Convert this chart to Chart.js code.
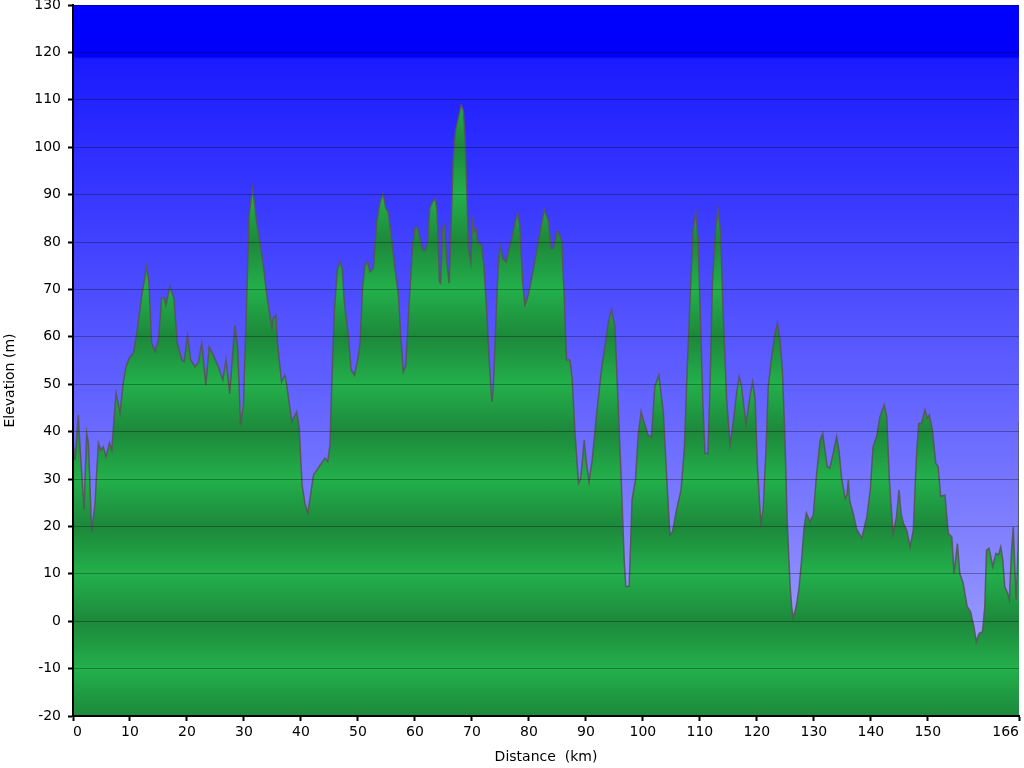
<!DOCTYPE html>
<html>
<head>
<meta charset="utf-8">
<title>Profil altimétrique</title>
<script src="https://cdn.jsdelivr.net/npm/chart.js@4.4.1/dist/chart.umd.min.js"></script>
<style>
  html, body { margin: 0; padding: 0; background: #fff; }
  #profil { display: block; }
</style>
</head>
<body>
<canvas id="profil" width="1024" height="768"></canvas>
<script>
const distanceKm = [
  0, 0.35, 0.93, 1.23, 1.93, 2.4, 2.7, 3.28, 3.86, 4.45, 4.85, 5.3, 5.8, 6.4, 6.8,
  7.55, 8.25, 8.8, 9.3, 9.9, 10.6, 11.2, 12.05, 12.9, 13.3, 13.8, 14.4, 15.0, 15.55, 16.0,
  16.3, 17.0, 17.7, 18.3, 19.1, 19.5, 20.1, 20.65, 21.4, 22.0, 22.6, 23.3, 23.9, 24.6, 25.5,
  26.3, 26.85, 27.5, 28.4, 28.9, 29.4, 29.9, 30.5, 30.9, 31.5, 31.9, 32.2, 32.8, 33.4, 34.0,
  34.9, 35.15, 35.6, 35.9, 36.6, 37.2, 37.5, 38.4, 39.25, 39.7, 40.2, 40.7, 41.2, 42.2, 43.0,
  44.2, 44.7, 45.1, 45.4, 45.85, 46.4, 46.85, 47.25, 47.6, 48.3, 48.8, 49.4, 50.0, 50.4, 50.8,
  51.2, 51.7, 52.1, 52.7, 53.3, 53.9, 54.4, 54.9, 55.3, 55.9, 56.5, 57.1, 57.5, 57.95, 58.4,
  59.0, 59.6, 60.0, 60.4, 60.9, 61.35, 61.8, 62.2, 62.6, 63.1, 63.6, 63.9, 64.3, 64.5, 64.9,
  65.2, 65.6, 66.0, 66.3, 66.7, 67.1, 67.6, 68.1, 68.5, 68.8, 69.1, 69.4, 69.8, 70.1, 70.4,
  70.7, 71.1, 71.7, 72.1, 72.6, 73.05, 73.5, 73.75, 74.2, 74.6, 74.9, 75.4, 76.0, 76.4, 77.0,
  77.6, 78.0, 78.4, 78.9, 79.3, 79.9, 80.8, 81.8, 82.7, 83.4, 83.9, 84.3, 85.0, 85.75, 86.2,
  86.6, 87.2, 87.6, 88.1, 88.7, 89.1, 89.7, 90.1, 90.55, 91.1, 91.9, 92.8, 93.35, 93.9, 94.5,
  95.1, 95.6, 96.2, 96.75, 97.0, 97.6, 98.1, 98.7, 99.2, 99.7, 100.1, 100.5, 100.9, 101.5, 102.1,
  102.8, 103.6, 104.2, 104.75, 105.2, 105.9, 106.7, 107.3, 107.7, 108.3, 108.8, 109.3, 109.7, 110.0, 110.5,
  110.9, 111.4, 111.8, 112.2, 112.8, 113.2, 113.65, 114.0, 114.7, 115.3, 115.9, 116.45, 116.9, 117.3, 118.1,
  118.7, 119.25, 119.7, 120.1, 120.7, 121.1, 121.6, 122.0, 122.6, 123.2, 123.6, 124.05, 124.5, 124.9, 125.3,
  125.8, 126.1, 126.4, 126.9, 127.4, 127.85, 128.3, 128.7, 129.3, 129.9, 130.5, 131.1, 131.55, 131.95, 132.35,
  132.8, 133.4, 134.0, 134.4, 134.9, 135.5, 135.8, 136.05, 136.3, 136.9, 137.5, 138.4, 139.3, 139.9, 140.4,
  141.0, 141.6, 142.35, 142.8, 143.25, 143.9, 144.5, 144.95, 145.3, 145.7, 146.3, 146.9, 147.45, 148.0, 148.4,
  148.9, 149.5, 149.9, 150.25, 150.8, 151.4, 151.8, 152.25, 153.0, 153.6, 154.2, 154.6, 155.2, 155.6, 156.2,
  156.9, 157.5, 158.1, 158.5, 159.0, 159.6, 160.0, 160.3, 160.75, 161.4, 161.95, 162.4, 162.8, 163.15, 163.5,
  164.0, 164.3, 164.7, 165.0, 165.3, 165.5, 165.7, 165.95, 166
];
const elevationM = [
  38, 34, 43.5, 36.8, 23.5, 39.7, 37.6, 18.9, 24.9, 37.6, 36.1, 36.8, 34.7, 37.6, 36.1,
  48.1, 43.9, 50.2, 53.7, 55.5, 56.6, 60.8, 68.5, 74.8, 72, 58.7, 56.9, 59.3, 68.2, 68.2,
  66.7, 70.6, 68.2, 58.7, 55.1, 54.8, 60.4, 55.1, 53.7, 54.5, 58.7, 49.8, 57.9, 56.2, 53.7,
  50.9, 55.1, 48, 62.5, 57.6, 41.4, 45.6, 68.8, 85.7, 91.3, 87.8, 84.3, 80, 75.1, 68.8,
  61.8, 63.9, 64.6, 58.3, 50.5, 51.9, 49.8, 42.1, 44.2, 40.7, 28.7, 24.9, 22.8, 30.8, 32.3,
  34.4, 33.7, 37.2, 49.8, 65.3, 74.4, 75.8, 74.4, 67.4, 60.4, 53, 51.9, 55.5, 59, 70.2,
  75.1, 75.8, 73.7, 74.4, 84.3, 88.5, 90.2, 87.1, 86.4, 80.8, 74.4, 68.8, 60.4, 52.6, 54,
  67.4, 79.4, 82.9, 83.2, 80.8, 78.3, 78.3, 79.7, 87.1, 88.5, 89.2, 86.4, 71.6, 71.3, 82.9,
  83.6, 75.8, 71.3, 81.5, 96.9, 103.3, 106.1, 108.9, 107.8, 101.9, 91.3, 78.7, 75.8, 85.3, 82.2,
  82.9, 79.7, 79.4, 75.1, 65.3, 54.8, 46.3, 49.1, 63.2, 74.4, 79.4, 76.6, 75.8, 78, 80.8,
  84.3, 86.1, 83.6, 71.6, 66.7, 68.8, 74.4, 81.1, 86.8, 84.6, 78.7, 78.7, 82.5, 80.4, 68.5,
  55.1, 55.1, 50.9, 39.6, 29.1, 30.1, 38.2, 33.3, 29.4, 34, 43.9, 53.7, 57.9, 62.8, 65.7,
  62.1, 47.4, 29.8, 12.2, 7.3, 7.3, 25.6, 29.8, 39.6, 44.2, 42.4, 41, 39.3, 38.9, 49.5,
  51.9, 43.9, 29.8, 18.2, 18.9, 23.5, 27.7, 36.8, 50.9, 68.5, 82.5, 86.1, 80.4, 67.8, 46.7,
  35.4, 35.4, 50.2, 71.3, 83.2, 86.8, 81.8, 67.8, 46.7, 37.2, 42.4, 48.1, 51.6, 49.5, 41.7,
  46.7, 50.5, 46.7, 32.6, 20.7, 23.5, 36.1, 49.5, 55.8, 60.7, 62.8, 59.3, 52.3, 39.6, 22,
  8, 3.1, 0.6, 3.1, 6.9, 12.9, 19.9, 22.8, 21, 22.4, 31.2, 38.2, 39.6, 36.1, 32.6,
  32.3, 35.4, 38.9, 36.1, 29.8, 25.9, 26.6, 29.8, 25.3, 22.8, 19.5, 17.5, 22, 27.7, 36.8,
  38.9, 43.1, 45.6, 43.1, 29.8, 18.5, 22, 27.7, 22.8, 20.7, 19.2, 15.7, 19.2, 34.7, 41.7,
  41.7, 44.6, 42.8, 43.5, 40.3, 33.3, 32.6, 26.3, 26.6, 18.5, 17.8, 10.1, 16.4, 10.1, 8,
  3.1, 2, -1.2, -4.3, -2.6, -2.2, 3.1, 15, 15.4, 11.5, 14.3, 14, 15.7, 12.9, 7.3,
  5.9, 4.5, 15, 19.9, 10.1, 4.5, 10.1, 20.7, 42
];

// Graduations de l'axe des distances (la dernière est la distance totale)
const distanceTicks = [0, 10, 20, 30, 40, 50, 60, 70, 80, 90, 100, 110, 120, 130, 140, 150, 166];

// Couleurs
const vertFonce = 'rgb(29,136,59)';
const vertClair = 'rgb(35,176,75)';

// Dégradé vert en bandes de 10 m sous la courbe
function degradeVert(context) {
  const chart = context.chart;
  const { ctx, chartArea, scales } = chart;
  if (!chartArea) return vertClair;
  const y = scales.y;
  const haut = y.getPixelForValue(130);
  const bas = y.getPixelForValue(-20);
  const g = ctx.createLinearGradient(0, haut, 0, bas);
  for (let v = -20; v <= 130; v += 10) {
    const f = (y.getPixelForValue(v) - haut) / (bas - haut);
    g.addColorStop(Math.min(1, Math.max(0, f)), Math.abs(v / 10) % 2 === 0 ? vertFonce : vertClair);
  }
  return g;
}

// Fond bleu dégradé de la zone du graphique
const fondBleu = {
  id: 'fondBleu',
  beforeDraw(chart) {
    const { ctx, chartArea: a, scales } = chart;
    if (!a) return;
    const y = scales.y;
    const coupure = (y.getPixelForValue(119) - a.top) / (a.bottom - a.top);
    const g = ctx.createLinearGradient(0, a.top, 0, a.bottom);
    g.addColorStop(0, 'rgb(0,0,255)');
    g.addColorStop(coupure, 'rgb(0,0,250)');
    g.addColorStop(coupure + 0.002, 'rgb(26,26,255)');
    g.addColorStop(1, 'rgb(168,168,255)');
    ctx.save();
    ctx.fillStyle = g;
    ctx.fillRect(a.left, a.top, a.right - a.left, a.bottom - a.top);
    ctx.restore();
  }
};

const police = { family: "'DejaVu Sans', Verdana, sans-serif", size: 14 };

const points = distanceKm.map((d, i) => ({ x: d, y: elevationM[i] }));

new Chart(document.getElementById('profil'), {
  type: 'line',
  data: {
    datasets: [{
      data: points,
      borderColor: 'rgba(85,85,85,0.9)',
      borderWidth: 1.5,
      backgroundColor: degradeVert,
      fill: 'start',
      pointRadius: 0,
      tension: 0
    }]
  },
  options: {
    responsive: false,
    animation: false,
    layout: { padding: { left: 0, top: 5, right: 5, bottom: 0 } },
    plugins: {
      legend: { display: false },
      tooltip: { enabled: false }
    },
    scales: {
      x: {
        type: 'linear',
        min: 0,
        max: 166,
        afterBuildTicks: (scale) => {
          scale.ticks = distanceTicks.map(v => ({ value: v }));
        },
        afterFit: (scale) => {
          scale.height = 52;
        },
        ticks: {
          color: '#000',
          font: police,
          padding: 3,
          align: 'inner',
          maxRotation: 0,
          autoSkip: false
        },
        grid: {
          drawOnChartArea: false,
          drawTicks: true,
          tickLength: 5,
          tickColor: '#000',
          tickWidth: 2,
          z: 1
        },
        border: { color: '#000', width: 2, z: 1 },
        title: {
          display: true,
          text: 'Distance  (km)',
          color: '#000',
          font: police,
          padding: { top: 0, bottom: 2 }
        }
      },
      y: {
        min: -20,
        max: 130,
        afterFit: (scale) => {
          scale.width = 73;
          scale.paddingTop = 0;
          scale.paddingBottom = 0;
        },
        ticks: {
          stepSize: 10,
          color: '#000',
          font: police,
          padding: 7
        },
        grid: {
          color: 'rgba(0,0,0,0.3)',
          lineWidth: 1,
          tickLength: 5,
          tickColor: '#000',
          tickWidth: 2,
          z: 1
        },
        border: { color: '#000', width: 2, z: 1 },
        title: {
          display: true,
          // espaces finaux : le titre est centré un peu plus bas que la zone du graphique
          text: 'Elevation (m)         ',
          color: '#000',
          font: police,
          padding: { top: 2, bottom: 0 }
        }
      }
    }
  },
  plugins: [fondBleu]
});
</script>
</body>
</html>
